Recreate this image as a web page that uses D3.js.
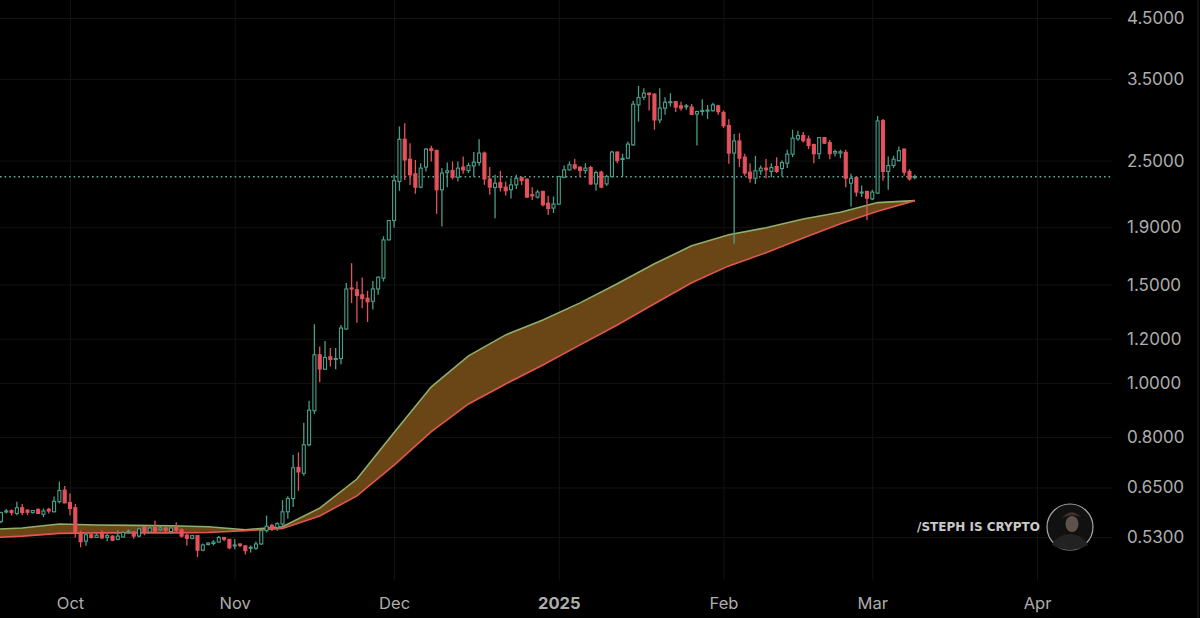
<!DOCTYPE html>
<html>
<head>
<meta charset="utf-8">
<script src="https://cdn.jsdelivr.net/npm/d3@7"></script>
<style>
    html, body { margin: 0; padding: 0; background: #000; overflow: hidden; }
    text { font-family: Inter, "Liberation Sans", sans-serif; }
</style>
</head>
<body>
<script>
// one row per month, first candle is 18 Sep 2024, one candle a day
var opens = [
    .565,.588,.591,.584,.598,.592,.586,.594,.582,.594,.588,.613,.643,
    .611,.598,.540,.521,.535,.529,.538,.529,.532,.525,.530,.541,.541,.532,.553,.541,.551,.546,.550,.542,.551,.546,.534,.527,.533,.502,.514,.516,.519,.529,.525,
    .511,.515,.511,.507,.506,.515,.544,.556,.551,.559,.588,.621,.706,.689,.775,.892,1.123,1.058,1.114,1.102,1.106,1.249,1.479,1.468,1.438,1.418,1.40,1.473,1.54,1.803,
    1.953,2.293,2.730,2.515,2.368,2.241,2.434,2.625,2.607,2.217,2.380,2.400,2.335,2.434,2.400,2.447,2.480,2.579,2.318,2.238,2.283,2.241,2.217,2.262,2.331,2.315,2.172,2.151,2.202,2.098,2.056,
    2.090,2.335,2.407,2.457,2.434,2.400,2.430,2.271,2.384,2.271,2.341,2.590,2.512,2.525,2.668,3.146,3.246,3.301,3.288,2.956,3.104,3.175,3.187,3.133,3.120,3.117,3.029,3.066,3.066,3.070,3.133,
    3.049,2.889,2.579,2.711,2.536,2.384,2.325,2.397,2.424,2.391,2.440,2.420,2.474,2.568,2.734,2.772,2.734,2.672,2.572,2.749,2.693,2.579,2.579,2.586,2.278,2.331,2.190,2.202,
    2.135,2.187,2.948,2.391,2.450,2.500,2.622,2.391,2.335
];
var closes = [
    .586,.590,.586,.598,.586,.587,.591,.584,.590,.590,.614,.642,.610,
    .596,.540,.520,.535,.529,.534,.528,.533,.523,.532,.540,.543,.532,.548,.540,.550,.543,.550,.545,.550,.545,.532,.527,.533,.502,.513,.517,.519,.529,.525,.507,
    .513,.512,.501,.508,.515,.544,.554,.550,.560,.588,.621,.705,.693,.775,.894,1.123,1.059,1.111,1.102,1.106,1.254,1.473,1.473,1.434,1.416,1.397,1.473,1.546,1.803,1.953,
    2.302,2.730,2.507,2.358,2.241,2.424,2.622,2.607,2.217,2.375,2.397,2.335,2.424,2.407,2.450,2.484,2.579,2.318,2.241,2.278,2.238,2.208,2.262,2.325,2.302,2.151,2.162,2.196,2.084,2.053,2.090,
    2.341,2.407,2.457,2.424,2.400,2.424,2.271,2.380,2.241,2.341,2.590,2.500,2.523,2.676,3.155,3.241,3.301,3.282,2.956,3.104,3.180,3.187,3.117,3.104,3.133,3.024,3.061,3.074,3.079,3.146,3.058,
    2.886,2.579,2.711,2.525,2.375,2.325,2.397,2.424,2.407,2.430,2.391,2.480,2.568,2.742,2.772,2.714,2.661,2.572,2.749,2.686,2.572,2.596,2.593,2.325,2.325,2.196,2.196,2.142,
    2.196,2.944,2.391,2.450,2.515,2.604,2.384,2.318,2.341
];
var highs = [
    .588,.595,.594,.613,.607,.594,.592,.596,.596,.598,.626,.666,.654,
    .634,.607,.544,.537,.537,.538,.545,.537,.534,.545,.543,.547,.543,.551,.555,.553,.567,.555,.553,.553,.563,.549,.537,.535,.533,.516,.518,.523,.532,.529,.525,
    .525,.516,.512,.512,.520,.545,.579,.560,.563,.617,.627,.743,.751,.849,.929,1.274,1.162,1.189,1.155,1.155,1.27,1.509,1.638,1.519,1.544,1.462,1.523,1.55,1.83,1.958,
    2.358,2.878,2.917,2.686,2.507,2.474,2.633,2.657,2.615,2.424,2.480,2.490,2.490,2.542,2.480,2.590,2.730,2.596,2.434,2.358,2.397,2.293,2.325,2.358,2.341,2.325,2.241,2.217,2.208,2.162,2.156,
    2.348,2.450,2.490,2.518,2.440,2.474,2.447,2.397,2.397,2.358,2.604,2.596,2.572,2.704,3.200,3.402,3.370,3.310,3.301,3.370,3.246,3.301,3.196,3.187,3.158,3.158,3.070,3.219,3.146,3.175,3.146,
    3.074,2.965,2.789,2.800,2.572,2.474,2.550,2.450,2.518,2.474,2.536,2.500,2.615,2.839,2.827,2.812,2.772,2.679,2.754,2.754,2.722,2.615,2.615,2.615,2.368,2.341,2.256,2.208,
    2.217,3.006,2.969,2.542,2.550,2.650,2.629,2.414,2.358
];
var lows = [
    .561,.584,.579,.580,.580,.580,.584,.583,.575,.584,.587,.609,.609,
    .580,.529,.508,.511,.527,.528,.526,.521,.521,.523,.529,.537,.526,.529,.534,.540,.541,.543,.541,.538,.541,.529,.512,.525,.488,.500,.512,.512,.518,.521,.504,
    .504,.508,.493,.497,.503,.513,.540,.543,.544,.555,.572,.600,.641,.682,.770,.880,1.003,1.056,1.07,1.058,1.08,1.245,1.39,1.282,1.36,1.286,1.354,1.438,1.52,1.80,
    1.896,2.208,2.308,2.262,2.181,2.232,2.391,2.490,2.008,1.906,2.241,2.315,2.293,2.368,2.375,2.341,2.447,2.262,2.172,1.972,2.202,2.165,2.138,2.223,2.262,2.142,2.126,2.138,2.070,1.998,2.014,
    2.084,2.325,2.400,2.407,2.335,2.368,2.262,2.208,2.232,2.253,2.335,2.474,2.341,2.515,2.657,2.936,3.209,3.074,2.839,2.917,3.020,3.124,3.054,3.070,3.083,3.020,2.661,3.011,2.969,3.061,3.020,
    2.859,2.467,1.774,2.434,2.348,2.283,2.271,2.358,2.325,2.335,2.375,2.341,2.424,2.536,2.714,2.693,2.622,2.474,2.518,2.679,2.515,2.542,2.525,2.241,2.070,2.156,2.151,1.958,
    2.126,2.181,2.302,2.217,2.424,2.490,2.348,2.302,2.315
];

// weekly support band, first point is 15 Sep 2024
var bandUpper = [.546,.550,.559,.557,.556,.555,.553,.546,.553,.597,.673,.815,.984,1.118,1.219,1.296,1.391,1.505,1.634,1.760,1.842,1.896,1.966,2.021,2.103,2.120];
var bandLower = [.528,.532,.538,.539,.539,.539,.540,.544,.549,.578,.628,.713,.818,.917,.996,1.077,1.170,1.270,1.386,1.511,1.620,1.710,1.818,1.927,2.030,2.120];

var lastPrice = 2.339;
var priceTicks = [4.5, 3.5, 2.5, 1.9, 1.5, 1.2, 1.0, 0.8, 0.65, 0.53];
var monthTicks = [[2024, 9], [2024, 10], [2024, 11], [2025, 0], [2025, 1], [2025, 2], [2025, 3]];
var monthLabels = ["Oct", "Nov", "Dec", "2025", "Feb", "Mar", "Apr"];

var width = 1200, height = 618;
var chartRight = 1112, chartBottom = 580;

var svg = d3.select("body").append("svg")
    .attr("width", width)
    .attr("height", height)
    .style("display", "block");

var x = d3.scaleUtc()
    .domain([new Date(Date.UTC(2024, 9, 1)), new Date(Date.UTC(2025, 3, 1))])
    .range([70, 1037]);

var y = d3.scaleLog()
    .domain([0.53, 4.5])
    .range([537, 18]);

var days = opens.map(function(d, i) { return new Date(Date.UTC(2024, 8, 18 + i)); });
var weeks = bandUpper.map(function(d, i) { return new Date(Date.UTC(2024, 8, 15 + i * 7)); });
var tickDates = monthTicks.map(function(d) { return new Date(Date.UTC(d[0], d[1], 1)); });

// right edge line of the price scale
svg.append("line")
    .attr("x1", 1198).attr("x2", 1198)
    .attr("y1", 0).attr("y2", height)
    .attr("stroke", "#242424");

// axes, tick lines double as grid
var xAxis = svg.append("g")
    .attr("transform", "translate(0," + chartBottom + ")")
    .call(d3.axisBottom(x)
        .tickValues(tickDates)
        .tickSize(-chartBottom)
        .tickPadding(17)
        .tickFormat(function(d, i) { return monthLabels[i]; }));

xAxis.select(".domain").remove();
xAxis.selectAll("line").attr("stroke", "#131313");
xAxis.selectAll("text")
    .attr("fill", "#adadad")
    .style("font-size", "16.5px")
    .style("font-weight", function(d, i) { return monthLabels[i] == "2025" ? 700 : 400; });

var yAxis = svg.append("g")
    .attr("transform", "translate(" + chartRight + ",0)")
    .call(d3.axisRight(y)
        .tickValues(priceTicks)
        .tickSize(-chartRight)
        .tickPadding(15)
        .tickFormat(function(d) { return d.toFixed(4); }));

yAxis.select(".domain").remove();
yAxis.selectAll("line").attr("stroke", "#131313");
yAxis.selectAll("text")
    .attr("fill", "#adadad")
    .style("font-size", "17px");

// band between the two weekly averages
var area = d3.area()
    .x(function(d, i) { return x(weeks[i]); })
    .y0(function(d, i) { return y(bandLower[i]); })
    .y1(function(d) { return y(d); });

var line = d3.line()
    .x(function(d, i) { return x(weeks[i]); })
    .y(function(d) { return y(d); });

svg.append("path")
    .datum(bandUpper)
    .attr("d", area)
    .attr("fill", "#6a4616");

svg.append("path")
    .datum(bandUpper)
    .attr("d", line)
    .attr("fill", "none")
    .attr("stroke", "#8fb06a")
    .attr("stroke-width", 1.6);

svg.append("path")
    .datum(bandLower)
    .attr("d", line)
    .attr("fill", "none")
    .attr("stroke", "#e2574f")
    .attr("stroke-width", 1.6);

// last price
svg.append("line")
    .attr("x1", 0).attr("x2", chartRight)
    .attr("y1", y(lastPrice)).attr("y2", y(lastPrice))
    .attr("stroke", "#62ab98")
    .attr("stroke-width", 1.3)
    .attr("stroke-dasharray", "1.6 3");

// candles
var green = "#4a9f8b", red = "#e4525c";
var bodyWidth = 3;

function isUp(i) { return closes[i] >= opens[i]; }

var candles = svg.append("g")
    .selectAll("g")
    .data(days)
    .enter()
    .append("g");

candles.append("line")
    .attr("x1", function(d) { return x(d); })
    .attr("x2", function(d) { return x(d); })
    .attr("y1", function(d, i) { return y(highs[i]); })
    .attr("y2", function(d, i) { return y(lows[i]); })
    .attr("stroke", function(d, i) { return isUp(i) ? green : red; })
    .attr("stroke-width", 1.3);

candles.append("rect")
    .attr("x", function(d) { return x(d) - bodyWidth / 2; })
    .attr("width", bodyWidth)
    .attr("y", function(d, i) { return y(Math.max(opens[i], closes[i])); })
    .attr("height", function(d, i) { return Math.max(1, Math.abs(y(opens[i]) - y(closes[i]))); })
    .attr("fill", function(d, i) { return isUp(i) ? "#050505" : red; })
    .attr("stroke", function(d, i) { return isUp(i) ? green : red; })
    .attr("stroke-width", 1.1);

// watermark
var mark = svg.append("g");

mark.append("text")
    .attr("x", 1040)
    .attr("y", 531)
    .attr("text-anchor", "end")
    .attr("fill", "#c9c9c9")
    .attr("textLength", 123)
    .attr("lengthAdjust", "spacingAndGlyphs")
    .style("font-family", "'DejaVu Sans', sans-serif")
    .style("font-size", "12px")
    .style("font-weight", 700)
    .text("/STEPH IS CRYPTO");

mark.append("circle")
    .attr("cx", 1070).attr("cy", 527).attr("r", 23)
    .attr("fill", "#111")
    .attr("stroke", "#a8a8a8")
    .attr("stroke-width", 1.2);

mark.append("path")
    .attr("d", "M1052 545 Q1056 535 1070 534 Q1084 535 1088 545 Q1079 550 1070 550 Q1061 550 1052 545 Z")
    .attr("fill", "#222");

mark.append("ellipse")
    .attr("cx", 1072).attr("cy", 524).attr("rx", 6.5).attr("ry", 8)
    .attr("fill", "#5d524c");

mark.append("path")
    .attr("d", "M1062 518 Q1071 507 1081 517 Q1072 513 1062 518 Z")
    .attr("fill", "#3d302e");
</script>
</body>
</html>
